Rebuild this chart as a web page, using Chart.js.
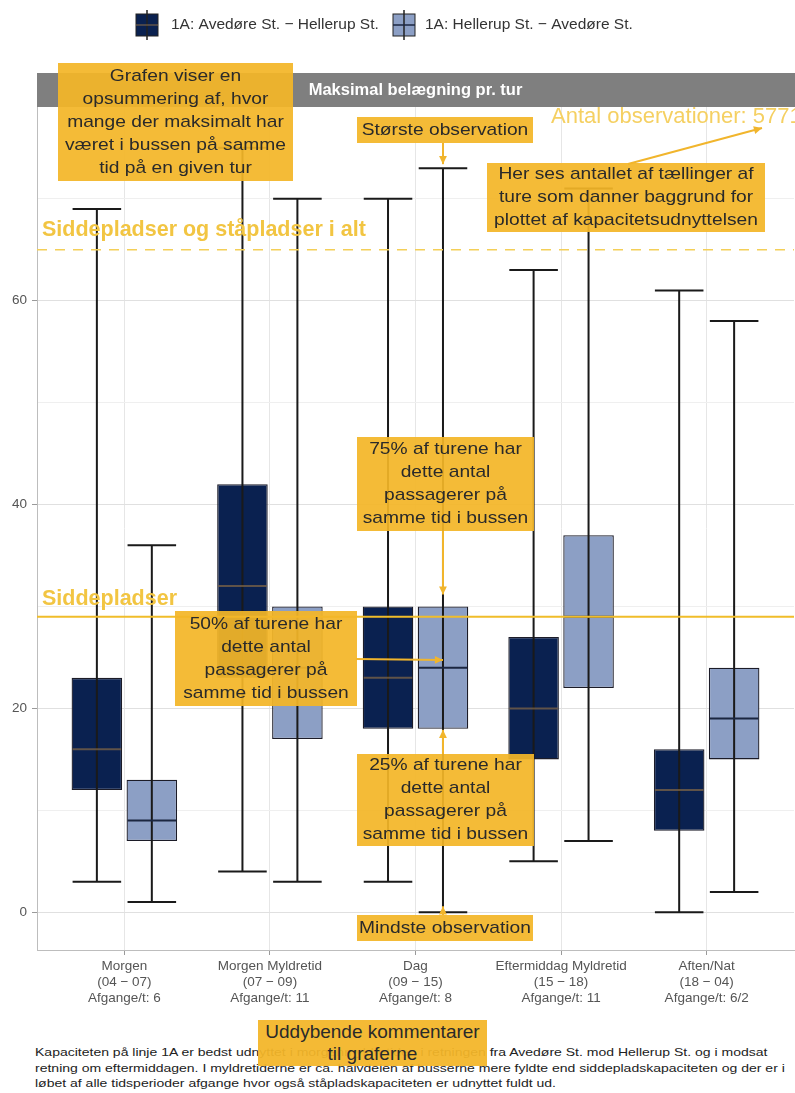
<!DOCTYPE html>
<html>
<head>
<meta charset="utf-8" />
<title>Maksimal belægning pr. tur</title>
<script src="https://cdn.jsdelivr.net/npm/chart.js"></script>
<style>
  body{margin:0;background:#fff;font-family:'Liberation Sans',Arial,sans-serif}
  #wrap{position:relative;width:795px;height:1093px;overflow:hidden}
  #box{position:absolute;left:0;top:0;width:795px;height:1010px}
  #footer{position:absolute;left:35px;top:1045px;font-size:11.5px;line-height:15.5px;color:#222;white-space:nowrap;transform-origin:0 0}
  #more{position:absolute;left:258px;top:1020px;width:229px;height:46px;background:rgba(243,182,40,0.94);color:#2a2a2a;font-size:19px;line-height:22px;text-align:center;display:flex;align-items:center;justify-content:center}
</style>
</head>
<body>
<div id="wrap">
  <div id="box"><canvas id="chart"></canvas></div>
  <div id="footer">Kapaciteten på linje 1A er bedst udnyttet i morgenmyldretiden i retningen fra Avedøre St. mod Hellerup St. og i modsat<br>retning om eftermiddagen. I myldretiderne er ca. halvdelen af busserne mere fyldte end siddepladskapaciteten og der er i<br>løbet af alle tidsperioder afgange hvor også ståpladskapaciteten er udnyttet fuldt ud.</div>
  <div id="more">Uddybende kommentarer<br>til graferne</div>
</div>
<script>
const periods = ['Morgen', 'Morgen Myldretid', 'Dag', 'Eftermiddag Myldretid', 'Aften/Nat'];
const hours = ['(04 − 07)', '(07 − 09)', '(09 − 15)', '(15 − 18)', '(18 − 04)'];
const departures = ['Afgange/t: 6', 'Afgange/t: 11', 'Afgange/t: 8', 'Afgange/t: 11', 'Afgange/t: 6/2'];
const series = ['1A: Avedøre St. − Hellerup St.', '1A: Hellerup St. − Avedøre St.'];

// Avedøre -> Hellerup
const outMin = [3, 4, 3, 5, 0];
const outQ1 = [12, 23, 18, 15, 8];
const outMed = [16, 32, 23, 20, 12];
const outQ3 = [23, 42, 30, 27, 16];
const outMax = [69, 75, 70, 63, 61];
// Hellerup -> Avedøre
const homeMin = [1, 3, 0, 7, 2];
const homeQ1 = [7, 17, 18, 22, 15];
const homeMed = [9, 24, 24, 29, 19];
const homeQ3 = [13, 30, 30, 37, 24];
const homeMax = [36, 70, 73, 71, 58];

const seatCap = 29;
const totalCap = 65;
const nObs = 5771;

const darkFill = '#0a2150';
const lightFill = '#8c9fc5';
const darkMed = 'rgba(125,100,70,0.75)';
const lightMed = '#1b2640';
const gold = '#f1b52c';
const noteFill = 'rgba(243,182,40,0.93)';
const FONT = '"Liberation Sans", Arial, sans-serif';

function arrow(ctx, x1, y1, x2, y2) {
  ctx.beginPath(); ctx.moveTo(x1, y1); ctx.lineTo(x2, y2); ctx.stroke();
  const a = Math.atan2(y2 - y1, x2 - x1), h = 9;
  ctx.beginPath();
  ctx.moveTo(x2, y2);
  ctx.lineTo(x2 - h * Math.cos(a - 0.45), y2 - h * Math.sin(a - 0.45));
  ctx.lineTo(x2 - h * Math.cos(a + 0.45), y2 - h * Math.sin(a + 0.45));
  ctx.closePath(); ctx.fill();
}

// the reference text is a bit stretched sideways, so draw it scaled in x
function wideText(ctx, t, x, y, sx) {
  ctx.save();
  ctx.translate(x, y);
  ctx.scale(sx, 1);
  ctx.fillText(t, 0, 0);
  ctx.restore();
}

function note(ctx, x, y, w, h, lines) {
  ctx.fillStyle = noteFill;
  ctx.fillRect(x, y, w, h);
  ctx.fillStyle = '#2a2a2a';
  ctx.font = '17px ' + FONT;
  ctx.textAlign = 'center';
  ctx.textBaseline = 'middle';
  const lh = 23;
  const y0 = y + h / 2 - (lines.length - 1) * lh / 2;
  lines.forEach((t, i) => wideText(ctx, t, x + w / 2, y0 + i * lh, 1.13));
}

function legendKey(ctx, x, y, fill, med) {
  ctx.fillStyle = fill;
  ctx.fillRect(x, y + 4, 22, 22);
  ctx.strokeStyle = '#222'; ctx.lineWidth = 1;
  ctx.strokeRect(x, y + 4, 22, 22);
  ctx.lineWidth = 1.5;
  ctx.beginPath(); ctx.moveTo(x + 11, y); ctx.lineTo(x + 11, y + 30); ctx.stroke();
  ctx.strokeStyle = med; ctx.lineWidth = 1.5;
  ctx.beginPath(); ctx.moveTo(x, y + 15); ctx.lineTo(x + 22, y + 15); ctx.stroke();
}

const boxExtras = {
  id: 'boxExtras',
  afterDatasetsDraw(chart) {
    const ctx = chart.ctx, ys = chart.scales.y, area = chart.chartArea;
    const stats = [[outMin, outMed, outMax], [homeMin, homeMed, homeMax]];
    ctx.save();
    stats.forEach((s, di) => {
      chart.getDatasetMeta(di).data.forEach((bar, j) => {
        const x = bar.x, half = bar.width / 2;
        ctx.strokeStyle = '#1a1a1a'; ctx.lineWidth = 2;
        const yLo = ys.getPixelForValue(s[0][j]), yHi = ys.getPixelForValue(s[2][j]);
        ctx.beginPath();
        ctx.moveTo(x, yLo); ctx.lineTo(x, yHi);
        ctx.moveTo(x - half + 1, yLo); ctx.lineTo(x + half - 1, yLo);
        ctx.moveTo(x - half + 1, yHi); ctx.lineTo(x + half - 1, yHi);
        ctx.stroke();
        const ym = ys.getPixelForValue(s[1][j]);
        ctx.strokeStyle = di === 0 ? darkMed : lightMed;
        ctx.lineWidth = 2;
        ctx.beginPath(); ctx.moveTo(x - half + 1, ym); ctx.lineTo(x + half - 1, ym); ctx.stroke();
      });
    });
    // capacity lines
    const yTot = ys.getPixelForValue(totalCap), ySeat = ys.getPixelForValue(seatCap);
    ctx.strokeStyle = '#f4cf58'; ctx.lineWidth = 1.6; ctx.setLineDash([10, 8]);
    ctx.beginPath(); ctx.moveTo(area.left, yTot); ctx.lineTo(area.right, yTot); ctx.stroke();
    ctx.setLineDash([]);
    ctx.strokeStyle = '#f0bd2a'; ctx.lineWidth = 2;
    ctx.beginPath(); ctx.moveTo(area.left, ySeat); ctx.lineTo(area.right, ySeat); ctx.stroke();
    ctx.fillStyle = '#f2c542';
    ctx.font = 'bold 21.5px ' + FONT;
    ctx.textAlign = 'left'; ctx.textBaseline = 'middle';
    ctx.fillText('Siddepladser og ståpladser i alt', area.left + 5, yTot - 20);
    ctx.fillText('Siddepladser', area.left + 5, ySeat - 18);
    ctx.restore();
  },
  afterDraw(chart) {
    const ctx = chart.ctx, ys = chart.scales.y, area = chart.chartArea;
    ctx.save();
    // facet strip
    ctx.fillStyle = '#7f7f7f';
    ctx.fillRect(area.left, area.top - 34, area.right - area.left + 2, 34);
    ctx.fillStyle = '#fff';
    ctx.font = 'bold 16.5px ' + FONT;
    ctx.textAlign = 'center'; ctx.textBaseline = 'middle';
    ctx.fillText('Maksimal belægning pr. tur', (area.left + area.right) / 2, area.top - 17);
    // legend
    ctx.font = '15.5px ' + FONT; ctx.textAlign = 'left';
    legendKey(ctx, 136, 10, darkFill, darkMed);
    ctx.fillStyle = '#333'; ctx.fillText(series[0], 171, 25);
    legendKey(ctx, 393, 10, lightFill, lightMed);
    ctx.fillStyle = '#333'; ctx.fillText(series[1], 425, 25);
    // observation count
    ctx.font = '22px ' + FONT; ctx.fillStyle = '#f5d062';
    ctx.fillText('Antal observationer: ' + nObs, 551, area.top + 10);

    // annotations, pointing at the Dag / Hellerup box
    const el = chart.getDatasetMeta(1).data[2];
    const ax = el.x;
    ctx.strokeStyle = gold; ctx.fillStyle = gold; ctx.lineWidth = 2;
    arrow(ctx, ax, 143, ax, ys.getPixelForValue(homeMax[2]) - 4);
    arrow(ctx, ax, 531, ax, ys.getPixelForValue(homeQ3[2]) - 12);
    arrow(ctx, 356, 659, ax, 660);
    arrow(ctx, ax, 754, ax, ys.getPixelForValue(homeQ1[2]) + 1);
    arrow(ctx, ax, 915, ax, ys.getPixelForValue(homeMin[2]) - 6);
    arrow(ctx, 628, 164, 762, 128);

    note(ctx, 58, 63, 235, 118, ['Grafen viser en', 'opsummering af, hvor', 'mange der maksimalt har', 'været i bussen på samme', 'tid på en given tur']);
    note(ctx, 357, 117, 176, 26, ['Største observation']);
    note(ctx, 487, 163, 278, 69, ['Her ses antallet af tællinger af', 'ture som danner baggrund for', 'plottet af kapacitetsudnyttelsen']);
    note(ctx, 357, 437, 177, 94, ['75% af turene har', 'dette antal', 'passagerer på', 'samme tid i bussen']);
    note(ctx, 175, 611, 182, 95, ['50% af turene har', 'dette antal', 'passagerer på', 'samme tid i bussen']);
    note(ctx, 357, 754, 177, 92, ['25% af turene har', 'dette antal', 'passagerer på', 'samme tid i bussen']);
    note(ctx, 357, 915, 176, 26, ['Mindste observation']);
    ctx.restore();
  }
};

const idx = periods.map((_, i) => i + 1);

new Chart(document.getElementById('chart'), {
  type: 'bar',
  data: {
    datasets: [
      {
        label: series[0],
        data: idx.map((x, i) => ({ x: x, y: [outQ1[i], outQ3[i]] })),
        backgroundColor: darkFill,
        borderColor: '#1c1c28',
        borderWidth: 1.3,
        borderSkipped: false,
        categoryPercentage: 0.755,
        barPercentage: 0.92
      },
      {
        label: series[1],
        data: idx.map((x, i) => ({ x: x, y: [homeQ1[i], homeQ3[i]] })),
        backgroundColor: lightFill,
        borderColor: '#1c1c28',
        borderWidth: 1.3,
        borderSkipped: false,
        categoryPercentage: 0.755,
        barPercentage: 0.92
      }
    ]
  },
  options: {
    responsive: true,
    maintainAspectRatio: false,
    animation: false,
    layout: { padding: { top: 107, right: 1, left: 0, bottom: 0 } },
    plugins: { legend: { display: false }, tooltip: { enabled: false } },
    scales: {
      x: {
        type: 'linear',
        min: 0.4,
        max: 5.6,
        offset: false,
        afterBuildTicks: (s) => { s.ticks = idx.map((v) => ({ value: v })); },
        afterFit: (s) => { s.height = 60; },
        grid: { color: '#e6e6e6', offset: false, tickLength: 5, tickColor: '#9a9a9a' },
        border: { color: '#bdbdbd' },
        ticks: {
          autoSkip: false,
          maxRotation: 0,
          padding: 4,
          color: '#555',
          font: { family: FONT, size: 13.5, lineHeight: 1.15 },
          callback: (v) => [periods[v - 1], hours[v - 1], departures[v - 1]]
        }
      },
      y: {
        min: -3.7,
        max: 79,
        afterBuildTicks: (s) => { s.ticks = [0, 10, 20, 30, 40, 50, 60, 70].map((v) => ({ value: v })); },
        afterFit: (s) => { s.width = 37; },
        grid: {
          color: (c) => (c.tick && c.tick.value % 20 === 0 ? '#e0e0e0' : '#efefef'),
          tickLength: 5,
          tickColor: (c) => (c.tick && c.tick.value % 20 === 0 ? '#9a9a9a' : 'rgba(0,0,0,0)')
        },
        border: { color: '#bdbdbd' },
        ticks: {
          padding: 5,
          color: '#555',
          font: { family: FONT, size: 13.5 },
          callback: (v) => (v % 20 === 0 ? v : '')
        }
      }
    }
  },
  plugins: [boxExtras]
});

// stretch the footer to the reference width
const foot = document.getElementById('footer');
const fw = foot.getBoundingClientRect().width;
foot.style.transform = 'scaleX(' + (750 / fw).toFixed(3) + ')';
</script>
</body>
</html>
